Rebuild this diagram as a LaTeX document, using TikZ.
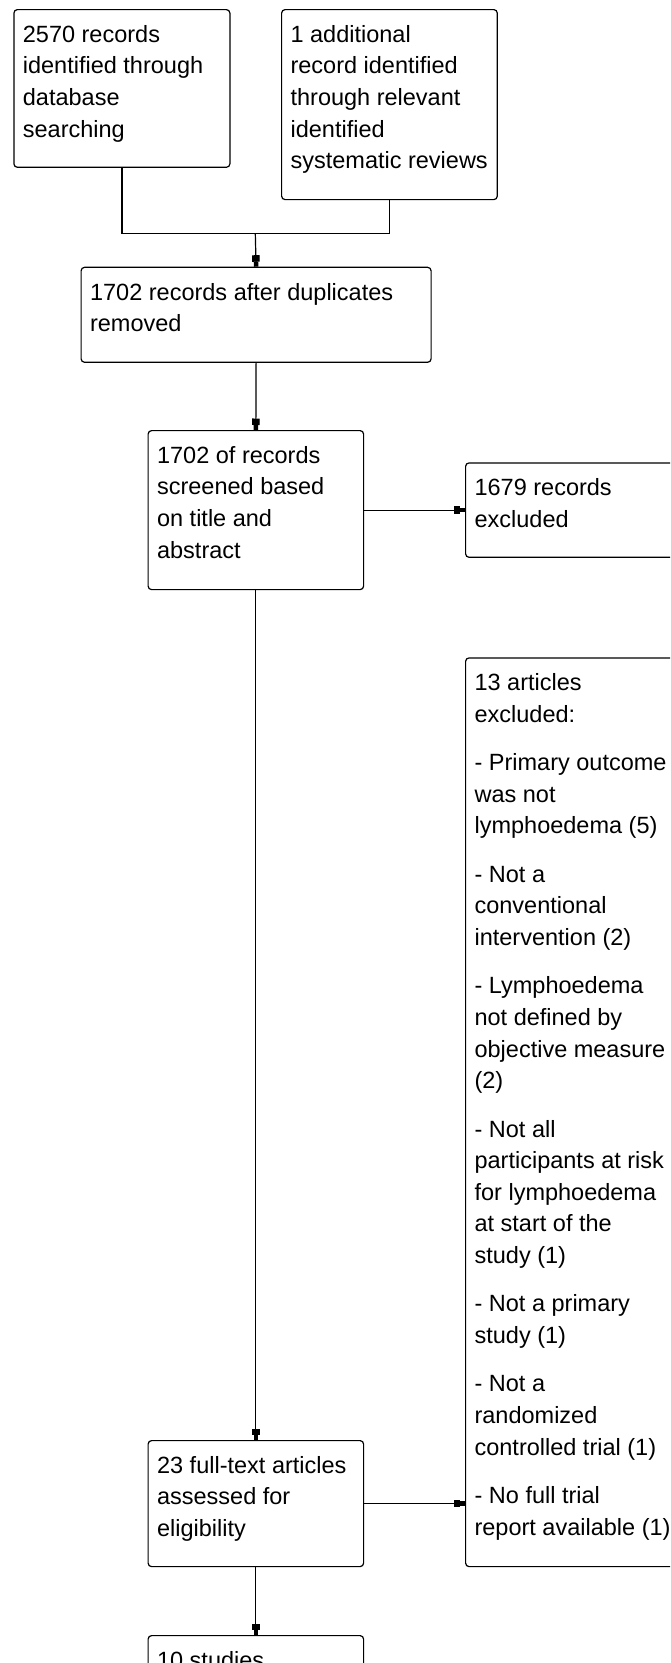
\documentclass[tikz,border=0pt]{standalone}
\usepackage{fontspec}
\setmainfont{Liberation Sans}
\usetikzlibrary{arrows.meta,calc}
\newcommand{\bxt}[3]{\parbox[t][#1][t]{#2}{\fontsize{23.5pt}{31.6pt}\selectfont\parindent=0pt\leftskip=9pt\rightskip=0pt plus 1fil\relax\hyphenpenalty=10000\rule{0pt}{32.7pt}#3\par}}
\tikzset{
  flowbox/.style={draw, line width=1.2pt, rounded corners=3.5pt, inner sep=0pt, anchor=north west, fill=white},
  conn/.style={line width=1.2pt},
  arr/.style={conn, -{Rectangle[length=6.5pt,width=7.5pt,sep=0pt]Rectangle[length=5pt,width=4.5pt,sep=0pt]}},
}
\begin{document}
\begin{tikzpicture}[x=1pt,y=-1pt]
\useasboundingbox (0,0) rectangle (670,1663);
\clip (0,0) rectangle (670,1663);
\fill[white] (0,0) rectangle (670,1663);

\node[flowbox] (b1) at (13.3,9) {\bxt{157.7pt}{216pt}{2570 records\\identified through\\database\\searching}};
\node[flowbox] (b2) at (281,9) {\bxt{190pt}{215.7pt}{1 additional\\record identified\\through relevant\\identified\\systematic reviews}};
\node[flowbox] (b3) at (80.5,266.7) {\bxt{95pt}{350pt}{1702 records after duplicates\\removed}};
\node[flowbox] (b4) at (147.5,430) {\bxt{159pt}{215.5pt}{1702 of records\\screened based\\on title and\\abstract}};
\node[flowbox] (b5) at (465,462.3) {\bxt{94.4pt}{240pt}{1679 records\\excluded}};
\node[flowbox] (b6) at (465,657.3) {\bxt{908.7pt}{240pt}{13 articles\\excluded:\\[16.8pt]- Primary outcome\\was not\\lymphoedema (5)\\[16.8pt]- Not a\\conventional\\intervention (2)\\[16.8pt]- Lymphoedema\\not defined by\\objective measure\\(2)\\[16.8pt]- Not all\\participants at risk\\for lymphoedema\\at start of the\\study (1)\\[16.8pt]- Not a primary\\study (1)\\[16.8pt]- Not a\\randomized\\controlled trial (1)\\[16.8pt]- No full trial\\report available (1)}};
\node[flowbox] (b7) at (147.5,1440) {\bxt{126pt}{215.5pt}{23 full-text articles\\assessed for\\eligibility}};
\node[flowbox] (b8) at (147.5,1635) {\bxt{95pt}{215.5pt}{10 studies}};

\coordinate (m) at (255.3,233.3);
\draw[conn] (b1.south) |- (m) -| (b2.south);
\draw[arr] (m) -- (b3.north);
\draw[arr] (b3.south) -- (b4.north);
\draw[arr] (b4.east) -- (b4.east -| b5.west);
\draw[arr] (b4.south) -- (b7.north);
\draw[arr] (b7.east) -- (b7.east -| b6.west);
\draw[arr] (b7.south) -- (b8.north);
\end{tikzpicture}
\end{document}
